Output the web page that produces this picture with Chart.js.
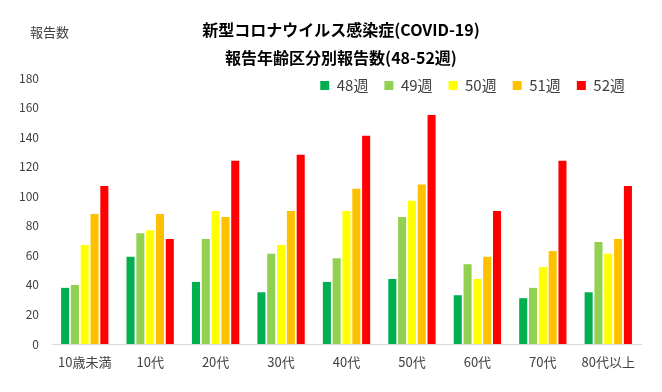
<!DOCTYPE html>
<html>
<head>
<meta charset="utf-8">
<script src="https://cdn.jsdelivr.net/npm/chart.js@4"></script>
<style>
  html, body { margin: 0; padding: 0; background: #fff; }
  #wrap { width: 662px; height: 392px; }
</style>
</head>
<body>
<div id="wrap"><canvas id="grafico"></canvas></div>
<script>
const categorias = ["10歳未満", "10代", "20代", "30代", "40代", "50代", "60代", "70代", "80代以上"];
const semana48 = [38, 59, 42, 35, 42, 44, 33, 31, 35];
const semana49 = [40, 75, 71, 61, 58, 86, 54, 38, 69];
const semana50 = [67, 77, 90, 67, 90, 97, 44, 52, 61];
const semana51 = [88, 88, 86, 90, 105, 108, 59, 63, 71];
const semana52 = [107, 71, 124, 128, 141, 155, 90, 124, 107];
const nomesSeries = ["48週", "49週", "50週", "51週", "52週"];
const coresSeries = ["#00B050", "#92D050", "#FFFF00", "#FFC000", "#FF0000"];
const tituloLinhas = ["新型コロナウイルス感染症(COVID-19)", "報告年齢区分別報告数(48-52週)"];
const tituloEixoY = "報告数";

const fonte = "'Noto Sans CJK JP', 'Noto Sans', sans-serif";
const valores = [semana48, semana49, semana50, semana51, semana52];

//titulo, rotulo do eixo y e posição da legenda ajustados à mão
const textosExtras = {
  id: "textosExtras",
  beforeLayout(chart) {
    //legenda não ocupa espaço no layout, fica por cima da area do grafico
    const legenda = chart.legend;
    if (legenda && !legenda._semAltura) {
      const fitOriginal = legenda.fit.bind(legenda);
      legenda.fit = function () {
        fitOriginal();
        this.height = 0;
      };
      legenda._semAltura = true;
    }
  },
  afterLayout(chart) {
    chart.legend.top = 62;
    chart.legend.bottom = 112;
  },
  afterDraw(chart) {
    const ctx = chart.ctx;
    ctx.save();
    ctx.fillStyle = "#000";
    ctx.textAlign = "center";
    ctx.textBaseline = "middle";
    ctx.font = "bold 16px " + fonte;
    ctx.fillText(tituloLinhas[0], 341, 30);
    ctx.fillText(tituloLinhas[1], 341, 58);
    ctx.fillStyle = "#404040";
    ctx.textAlign = "left";
    ctx.font = "13px " + fonte;
    ctx.fillText(tituloEixoY, 30, 32);
    ctx.restore();
  }
};

new Chart(document.getElementById("grafico"), {
  type: "bar",
  data: {
    labels: categorias,
    datasets: valores.map((dados, i) => ({
      label: nomesSeries[i],
      data: dados,
      backgroundColor: coresSeries[i],
      borderWidth: 0,
      categoryPercentage: 0.75,
      barPercentage: 0.82,
    })),
  },
  options: {
    responsive: true,
    maintainAspectRatio: false,
    animation: false,
    layout: {
      padding: { top: 78, left: 0, right: 21, bottom: 0 },
    },
    plugins: {
      title: { display: false },
      tooltip: { enabled: false },
      legend: {
        position: "top",
        align: "end",
        labels: {
          boxWidth: 9,
          boxHeight: 9,
          padding: 16,
          color: "#404040",
          font: { family: fonte, size: 15 },
        },
      },
    },
    scales: {
      x: {
        grid: { display: false },
        border: { color: "#D9D9D9", width: 1 },
        ticks: {
          color: "#404040",
          padding: 2,
          maxRotation: 0,
          autoSkip: false,
          font: { family: fonte, size: 13 },
        },
        afterFit: (escala) => { escala.height = 48; },
      },
      y: {
        min: 0,
        max: 180,
        grid: { display: false },
        border: { display: false },
        ticks: {
          stepSize: 20,
          color: "#404040",
          padding: 5,
          font: { family: fonte, size: 12 },
        },
        afterFit: (escala) => { escala.width = 52; },
      },
    },
  },
  plugins: [textosExtras],
});
</script>
</body>
</html>
